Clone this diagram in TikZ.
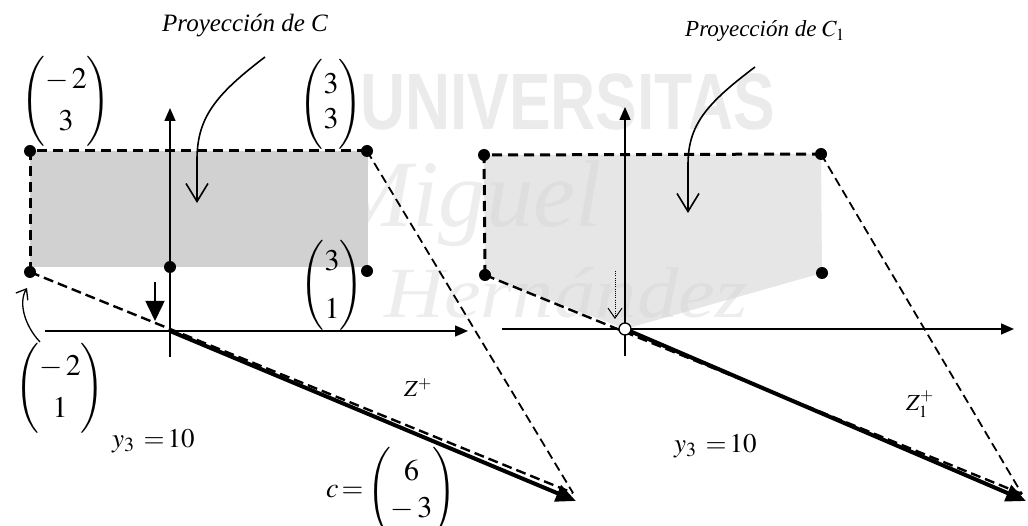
\documentclass[tikz,border=0pt]{standalone}
\usepackage{amsmath}
\usepackage{mathptmx}
\usepackage[no-math]{fontspec}
\setmainfont{Liberation Serif}
\newfontfamily\wmsans{Liberation Sans}
\usetikzlibrary{arrows.meta}
% column vector: #1 row gap, #2 paren height (pt), #3 top entry, #4 bottom entry
\newcommand{\pv}[4]{{\delimiterfactor=1000 \delimitershortfall=0pt \fontsize{30}{#1}\selectfont$\left(\vcenter{\hbox{\rule{0pt}{#2pt}}}\smash{\begin{array}{@{}c@{}}#3\\#4\end{array}}\right)$}}
\begin{document}
\begin{tikzpicture}[x=1pt,y=-1pt,
  dot/.style={circle,fill=black,inner sep=0pt,minimum size=12pt},
  hol/.style={circle,draw=black,fill=white,line width=1.3pt,inner sep=0pt,minimum size=12pt},
  bdash/.style={line width=3pt,dash pattern=on 10pt off 6pt},
  mdash/.style={line width=2.4pt,dash pattern=on 10pt off 5pt},
  sdash/.style={line width=1.8pt,dash pattern=on 9pt off 5pt},
  axis/.style={line width=1.5pt,-{Triangle[length=13pt,width=11pt]}},
  cvec/.style={line width=4pt,-{Triangle[length=20pt,width=17pt]}},
  proj/.style={line width=1.6pt,-{Straight Barb[length=18pt,width=22pt]}},
  smallproj/.style={line width=1.3pt,-{Straight Barb[length=9pt,width=14pt]}},
  lbl/.style={inner sep=0pt},
  wm/.style={inner sep=0pt}]
\useasboundingbox (0,0) rectangle (1028,526);
% watermark
\node[wm,anchor=base west,text=black!8,xscale=0.78,font={\wmsans\bfseries\fontsize{80}{80}\selectfont}] (wm1) at (360,130) {UNIVERSITAS};
\node[wm,anchor=base west,text=black!7,font={\itshape\fontsize{95}{95}\selectfont}] (wm2) at (333,227) {Miguel};
\node[wm,anchor=base west,text=black!7,xscale=1.15,font={\itshape\fontsize{72}{72}\selectfont}] (wm3) at (384,318) {Hernández};
% ---------------- left diagram ----------------
\coordinate (a1) at (30,151);
\coordinate (a2) at (367,151);
\coordinate (a3) at (367,271);
\coordinate (a4) at (30,272);
\coordinate (a5) at (170,267);
\fill[black!18] (30,151) rectangle (368,267);
\coordinate (O) at (170,331);
\coordinate (XL) at (45,331);
\coordinate (XR) at (468,331);
\coordinate (YB) at (170,357);
\coordinate (YT) at (170,108);
\coordinate (CE) at (576,501);
\coordinate (DE) at (573,493);
\draw[axis] (XL) -- (XR);
\draw[axis] (YB) -- (YT);
\draw[bdash] (a4) -- (a1) -- (a2);
\draw[mdash] (a4) -- (DE);
\draw[sdash] (a2) -- (DE);
\draw[cvec] (O) -- (CE);
\node[dot] (A1) at (a1) {};
\node[dot] (A2) at (a2) {};
\node[dot] (A3) at (a3) {};
\node[dot] (A4) at (a4) {};
\node[dot] (A5) at (a5) {};
\coordinate (DA1) at (155,282);
\coordinate (DA2) at (155,321);
\draw[line width=1.6pt,-{Triangle[length=20pt,width=19pt]}] (DA1) -- (DA2);
\coordinate (P1s) at (265,57);
\coordinate (P1e) at (197,203);
\draw[proj] (P1s) .. controls (215,95) and (197,118) .. (197,160) -- (P1e);
\coordinate (Q1s) at (40,342);
\coordinate (Q1e) at (27,288);
\draw[smallproj] (Q1s) .. controls (25,326) and (18,303) .. (Q1e);
\node[lbl,anchor=base west] (T1) at (162,31.7) {\fontsize{25}{30}\selectfont\itshape Proyección de C};
\node[lbl] (mA) at (66,101) {\pv{42}{78}{-\,2}{3}};
\node[lbl] (mB) at (331,104) {\pv{35}{78}{3}{3}};
\node[lbl] (mC) at (332,285) {\pv{48}{85}{3}{1}};
\node[lbl] (mD) at (60,388) {\pv{42}{79}{-\,2}{1}};
\node[lbl,anchor=base west] (Zp) at (404,397) {\fontsize{23}{28}\selectfont$Z^{+}$};
\node[lbl,anchor=base west] (y3a) at (112,447) {\fontsize{27}{32}\selectfont$y_3\;\,{=}\,10$};
\node[lbl,anchor=west] (cl) at (326,492) {\fontsize{28}{34}\selectfont$c\,{=}\,$};
\node[lbl,anchor=west] (cv) at (cl.east) {\pv{37}{80}{6}{-\,3}};
% ---------------- right diagram ----------------
\coordinate (b1) at (484,155);
\coordinate (b2) at (821,154);
\coordinate (b3) at (822,273);
\coordinate (b4) at (485,275);
\coordinate (O2) at (625,329);
\fill[black!16,fill opacity=0.62] (b1) -- (b2) -- (b3) -- (O2) -- (b4) -- cycle;
\coordinate (XL2) at (502,329);
\coordinate (XR2) at (1014,329);
\coordinate (YB2) at (625,356);
\coordinate (YT2) at (625,107);
\coordinate (CE2) at (1026,501);
\coordinate (DE2) at (1022,494);
\draw[axis] (XL2) -- (XR2);
\draw[axis] (YB2) -- (YT2);
\draw[bdash] (b4) -- (b1) -- (b2);
\draw[mdash] (b4) -- (DE2);
\draw[sdash] (b2) -- (DE2);
\draw[cvec] (O2) -- (CE2);
\node[dot] (B1) at (b1) {};
\node[dot] (B2) at (b2) {};
\node[dot] (B3) at (b3) {};
\node[dot] (B4) at (b4) {};
\node[hol] (OC) at (O2) {};
\coordinate (DD1) at (615,271);
\coordinate (DD2) at (615,319);
\draw[line width=1pt,dash pattern=on 1pt off 1.2pt,-{Straight Barb[length=10pt,width=14pt]}] (DD1) -- (DD2);
\coordinate (P2s) at (755,67);
\coordinate (P2e) at (688,213);
\draw[proj] (P2s) .. controls (706,104) and (688,125) .. (688,165) -- (P2e);
\node[lbl,anchor=base west] (T2) at (685,36.7) {\fontsize{23}{28}\selectfont\itshape Proyección de $C_{\mathrm{1}}$};
\node[lbl,anchor=base west] (Z1p) at (906,410) {\fontsize{23}{28}\selectfont$Z_1^{+}$};
\node[lbl,anchor=base west] (y3b) at (674,452) {\fontsize{27}{32}\selectfont$y_3\;\,{=}\,10$};
\end{tikzpicture}
\end{document}
